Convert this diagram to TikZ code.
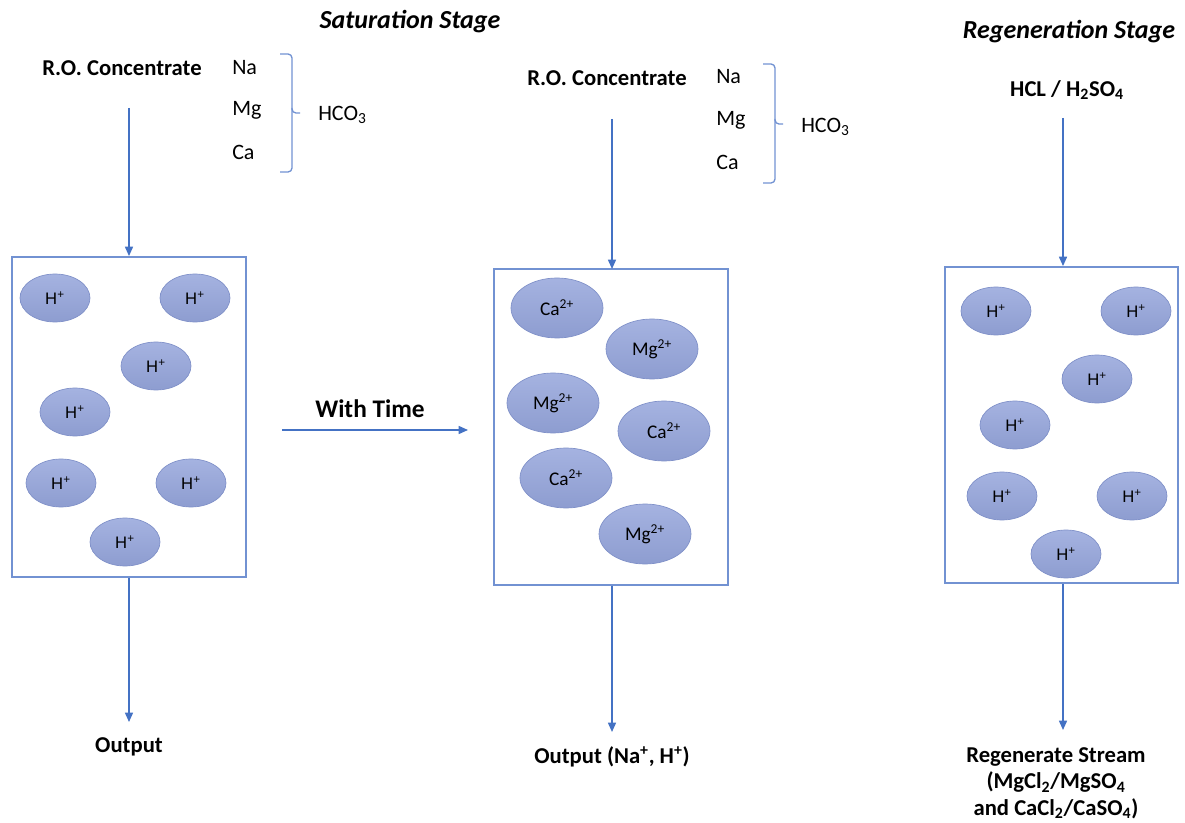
\documentclass[tikz,border=0pt]{standalone}
\usepackage{fontspec}
\setmainfont{Carlito}
\newfontfamily\arialf{Liberation Sans}
\usetikzlibrary{shapes.geometric,arrows.meta}
\definecolor{lineblue}{HTML}{4472C4}
\definecolor{boxblue}{HTML}{7292D2}
\definecolor{ionfill}{HTML}{95A5DB}
\definecolor{iondraw}{HTML}{7F90C8}
\tikzset{
  arr/.style={draw=lineblue, line width=1.1pt, -{Triangle[length=7pt,width=6pt]}},
  vessel/.style={draw=boxblue, line width=1.4pt, minimum width=175.5pt, inner sep=0pt},
  hion/.style={ellipse, draw=iondraw, line width=0.5pt, top color=ionfill!85!white, bottom color=ionfill!95!black, minimum width=52.5pt, minimum height=36pt, inner sep=0pt, font=\arialf\fontsize{12.5}{14}\selectfont},
  bion/.style={hion, minimum width=69pt, minimum height=45pt, font=\fontsize{14.5}{16}\selectfont},
  blab/.style={font=\bfseries\fontsize{17}{20}\selectfont, inner sep=0pt},
  rlab/.style={font=\fontsize{16.5}{20}\selectfont, inner sep=0pt},
  title/.style={font=\bfseries\itshape\fontsize{19.5}{23}\selectfont, inner sep=0pt},
  brace/.style={draw=boxblue, line width=1pt, rounded corners=3pt}
}
\begin{document}
\begin{tikzpicture}[x=0.75pt,y=-0.75pt]
\useasboundingbox (0,0) rectangle (1185,823);

% ---------- Titles ----------
\node[title] (t1) at (410,22) {Saturation Stage};
\node[title] (t2) at (1069,32) {Regeneration Stage};

% ---------- Left panel ----------
\node[blab] (ro1) at (122,68) {R.O. Concentrate};
\node[rlab, anchor=west] (na1) at (232,68) {Na};
\node[rlab, anchor=west] (mg1) at (232,110) {Mg};
\node[rlab, anchor=west] (ca1) at (232,152) {Ca};
\draw[brace] (280,54) -- (292,54) -- (292,113) -- (300,113);
\draw[brace] (292,108) -- (292,172) -- (280,172);
\node[rlab, anchor=west] (hco1) at (318,115) {HCO\textsubscript{3}};

\node[vessel, minimum height=240pt] (box1) at (129,417) {};
\coordinate (in1) at (129,108);
\draw[arr] (in1) -- (box1.north);
\node[hion] (h11) at (55,298) {H\textsuperscript{+}};
\node[hion] (h12) at (195,298) {H\textsuperscript{+}};
\node[hion] (h13) at (156,366) {H\textsuperscript{+}};
\node[hion] (h14) at (75,412) {H\textsuperscript{+}};
\node[hion] (h15) at (61,483) {H\textsuperscript{+}};
\node[hion] (h16) at (191,483) {H\textsuperscript{+}};
\node[hion] (h17) at (125,542) {H\textsuperscript{+}};
\coordinate (out1) at (129,722);
\draw[arr] (box1.south) -- (out1);
\node[blab] (o1) at (129,747) {Output};

% ---------- With time ----------
\node[blab, font=\bfseries\fontsize{19}{22}\selectfont] (wt) at (370,409) {With Time};
\coordinate (wt1) at (282,430);
\coordinate (wt2) at (468,430);
\draw[arr] (wt1) -- (wt2);

% ---------- Middle panel ----------
\node[blab] (ro2) at (607,78) {R.O. Concentrate};
\node[rlab, anchor=west] (na2) at (716,77) {Na};
\node[rlab, anchor=west] (mg2) at (716,120) {Mg};
\node[rlab, anchor=west] (ca2) at (716,162) {Ca};
\draw[brace] (763,64) -- (775,64) -- (775,124) -- (783,124);
\draw[brace] (775,119) -- (775,183) -- (763,183);
\node[rlab, anchor=west] (hco2) at (801,127) {HCO\textsubscript{3}};

\node[vessel, minimum height=237pt] (box2) at (611,427) {};
\coordinate (in2) at (612,119);
\draw[arr] (in2) -- (612,269);
\node[bion] (m1) at (557,308) {Ca\textsuperscript{2+}};
\node[bion] (m2) at (652,349) {Mg\textsuperscript{2+}};
\node[bion] (m3) at (553,403) {Mg\textsuperscript{2+}};
\node[bion] (m4) at (664,431) {Ca\textsuperscript{2+}};
\node[bion] (m5) at (566,478) {Ca\textsuperscript{2+}};
\node[bion] (m6) at (645,534) {Mg\textsuperscript{2+}};
\coordinate (out2) at (612,732);
\draw[arr] (box2.south -| out2) -- (out2);
\node[blab] (o2) at (612,757) {Output (Na\textsuperscript{+}, H\textsuperscript{+})};

% ---------- Right panel ----------
\node[blab] (acid) at (1067,90) {HCL / H\textsubscript{2}SO\textsubscript{4}};
\node[vessel, minimum width=174.75pt, minimum height=237pt] (box3) at (1061.5,425) {};
\coordinate (in3) at (1063,118);
\draw[arr] (in3) -- (in3 |- box3.north);
\node[hion] (h31) at (996,311) {H\textsuperscript{+}};
\node[hion] (h32) at (1136,311) {H\textsuperscript{+}};
\node[hion] (h33) at (1097,379) {H\textsuperscript{+}};
\node[hion] (h34) at (1015,425) {H\textsuperscript{+}};
\node[hion] (h35) at (1002,496) {H\textsuperscript{+}};
\node[hion] (h36) at (1132,496) {H\textsuperscript{+}};
\node[hion] (h37) at (1066,554) {H\textsuperscript{+}};
\coordinate (out3) at (1063,730);
\draw[arr] (out3 |- box3.south) -- (out3);
\node[blab, align=center, font=\bfseries\fontsize{17}{20}\selectfont] (o3) at (1056,783) {Regenerate Stream\\(MgCl\textsubscript{2}/MgSO\textsubscript{4}\\and CaCl\textsubscript{2}/CaSO\textsubscript{4})};
\end{tikzpicture}
\end{document}
